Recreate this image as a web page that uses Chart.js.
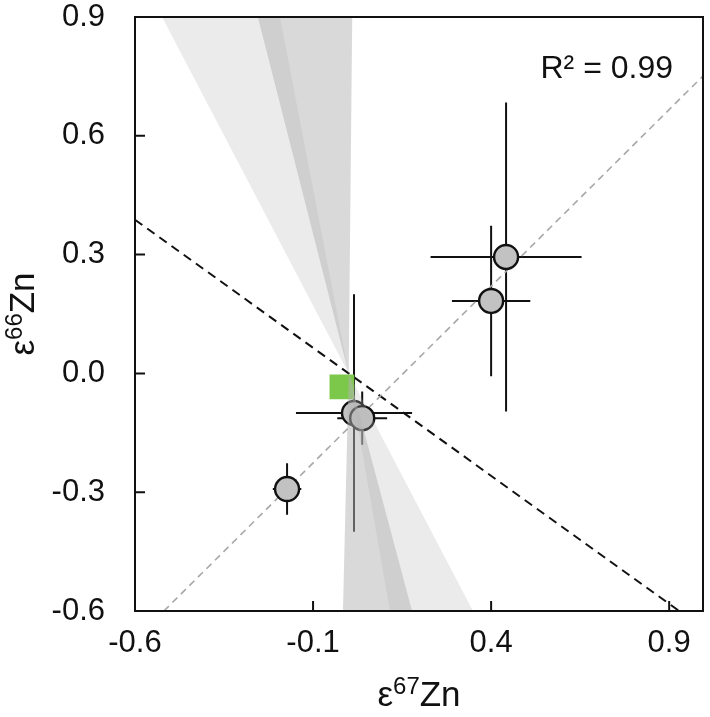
<!DOCTYPE html>
<html>
<head>
<meta charset="utf-8">
<script src="https://cdn.jsdelivr.net/npm/chart.js@4.4.0/dist/chart.umd.min.js"></script>
<style>
  body { margin: 0; background: #fff; }
  #wrap { width: 710px; height: 717px; }
</style>
</head>
<body>
<div id="wrap"><canvas id="znChart"></canvas></div>
<script>
// tick values on both axes
const xTicks = [-0.6, -0.1, 0.4, 0.9];
const yTicks = [-0.6, -0.3, 0.0, 0.3, 0.6, 0.9];

// samples: e67Zn / e66Zn with their errors (2SD)
const e67 = [0.442, 0.400, 0.015, 0.038, -0.173];
const e66 = [0.294, 0.183, -0.100, -0.113, -0.292];
const e67Err = [0.212, 0.110, 0.163, 0.070, 0.040];
const e66Err = [0.390, 0.190, 0.300, 0.067, 0.065];

// green reference square
const refX = [-0.019];
const refY = [-0.034];

// regression through the samples (grey dashed)
const fitX = [-0.519, 0.995];
const fitY = [-0.600, 0.751];

// black dashed line
const mixX = [-0.600, 0.928];
const mixY = [0.388, -0.600];

// two shaded wedges crossing at the origin
const wedgeAX = [-0.524, 0, 0.349, 0.116, 0, -0.193];
const wedgeAY = [0.9, 0, -0.6, -0.6, 0, 0.9];
const wedgeBX = [-0.255, 0, 0.178, -0.016, 0, 0.010];
const wedgeBY = [0.9, 0, -0.6, -0.6, 0, 0.9];

const FONT = '"Liberation Sans", Arial, Helvetica, sans-serif';

function pts(xs, ys) {
  return xs.map((v, i) => ({ x: v, y: ys[i] }));
}

// error bars, drawn under the markers
const errorBars = {
  id: 'errorBars',
  beforeDatasetsDraw(chart) {
    const { ctx, scales: { x, y } } = chart;
    ctx.save();
    ctx.strokeStyle = '#111';
    ctx.lineWidth = 2;
    e67.forEach((v, i) => {
      const px = x.getPixelForValue(v);
      const py = y.getPixelForValue(e66[i]);
      ctx.beginPath();
      ctx.moveTo(x.getPixelForValue(v - e67Err[i]), py);
      ctx.lineTo(x.getPixelForValue(v + e67Err[i]), py);
      ctx.moveTo(px, y.getPixelForValue(e66[i] + e66Err[i]));
      ctx.lineTo(px, y.getPixelForValue(e66[i] - e66Err[i]));
      ctx.stroke();
    });
    ctx.restore();
  }
};

// frame, inward ticks, R2 label and axis titles
const frame = {
  id: 'frame',
  afterDraw(chart) {
    const { ctx, chartArea: a, scales: { x, y } } = chart;
    ctx.save();
    ctx.strokeStyle = '#111';
    ctx.lineWidth = 2;
    ctx.strokeRect(a.left, a.top, a.right - a.left, a.bottom - a.top);
    ctx.beginPath();
    xTicks.forEach(v => {
      const px = x.getPixelForValue(v);
      ctx.moveTo(px, a.bottom);
      ctx.lineTo(px, a.bottom - 10);
    });
    yTicks.forEach(v => {
      const py = y.getPixelForValue(v);
      ctx.moveTo(a.left, py);
      ctx.lineTo(a.left + 10, py);
    });
    ctx.stroke();

    ctx.fillStyle = '#111';
    ctx.font = '32px ' + FONT;
    ctx.textAlign = 'right';
    ctx.textBaseline = 'alphabetic';
    ctx.fillText('R² = 0.99', a.right - 30, a.top + 61);

    // axis titles with superscript mass numbers
    function title(parts, cx, cy, rot) {
      ctx.save();
      ctx.translate(cx, cy);
      ctx.rotate(rot);
      let w = 0;
      parts.forEach(p => { ctx.font = p.size + 'px ' + FONT; w += ctx.measureText(p.t).width; });
      let pos = -w / 2;
      ctx.textAlign = 'left';
      parts.forEach(p => {
        ctx.font = p.size + 'px ' + FONT;
        ctx.fillText(p.t, pos, p.dy);
        pos += ctx.measureText(p.t).width;
      });
      ctx.restore();
    }
    const midX = (a.left + a.right) / 2;
    const midY = (a.top + a.bottom) / 2;
    title([{ t: 'ε', size: 35, dy: 0 }, { t: '67', size: 24, dy: -12 }, { t: 'Zn', size: 35, dy: 0 }],
      midX, 706, 0);
    title([{ t: 'ε', size: 35, dy: 0 }, { t: '66', size: 24, dy: -12 }, { t: 'Zn', size: 35, dy: 0 }],
      34, midY, -Math.PI / 2);
    ctx.restore();
  }
};

const tickFont = { family: FONT, size: 31 };

new Chart(document.getElementById('znChart'), {
  type: 'scatter',
  data: {
    datasets: [
      {
        label: 'wedge A', data: pts(wedgeAX, wedgeAY), showLine: true, fill: 'shape',
        backgroundColor: 'rgba(180,180,180,0.27)', borderColor: 'rgba(0,0,0,0)',
        pointRadius: 0, tension: 0, order: 0
      },
      {
        label: 'wedge B', data: pts(wedgeBX, wedgeBY), showLine: true, fill: 'shape',
        backgroundColor: 'rgba(180,180,180,0.5)', borderColor: 'rgba(0,0,0,0)',
        pointRadius: 0, tension: 0, order: 1
      },
      {
        label: 'samples', data: pts(e67, e66),
        backgroundColor: '#c2c2c2', borderColor: '#111', borderWidth: 2.4,
        pointRadius: 12, order: 2
      },
      {
        label: 'reference', data: pts(refX, refY), pointStyle: 'rect',
        backgroundColor: '#7cc84a', borderWidth: 0, pointRadius: 17.5, order: 3
      },
      {
        label: 'fit', data: pts(fitX, fitY), showLine: true,
        borderColor: '#a8a8a8', borderWidth: 1.6, borderDash: [7, 5],
        pointRadius: 0, order: 4
      },
      {
        label: 'mix', data: pts(mixX, mixY), showLine: true,
        borderColor: '#111', borderWidth: 2, borderDash: [9, 6],
        pointRadius: 0, order: 5
      }
    ]
  },
  options: {
    responsive: true,
    maintainAspectRatio: false,
    animation: false,
    layout: { autoPadding: false, padding: { left: 0, top: 17, right: 7, bottom: 0 } },
    plugins: { legend: { display: false }, tooltip: { enabled: false } },
    scales: {
      x: {
        type: 'linear', min: -0.6, max: 0.995,
        afterBuildTicks: s => { s.ticks = xTicks.map(v => ({ value: v })); },
        afterFit: s => { s.height = 106; s.paddingLeft = 0; s.paddingRight = 0; },
        grid: { display: false, drawTicks: false },
        border: { display: false },
        ticks: { font: tickFont, color: '#111', padding: 14, maxRotation: 0, autoSkip: false,
          callback: v => v.toFixed(1) }
      },
      y: {
        type: 'linear', min: -0.6, max: 0.9,
        afterBuildTicks: s => { s.ticks = yTicks.map(v => ({ value: v })); },
        afterFit: s => { s.width = 135; s.paddingTop = 0; s.paddingBottom = 0; },
        grid: { display: false, drawTicks: false },
        border: { display: false },
        ticks: { font: tickFont, color: '#111', padding: 30, autoSkip: false,
          callback: v => v.toFixed(1) }
      }
    }
  },
  plugins: [errorBars, frame]
});
</script>
</body>
</html>
